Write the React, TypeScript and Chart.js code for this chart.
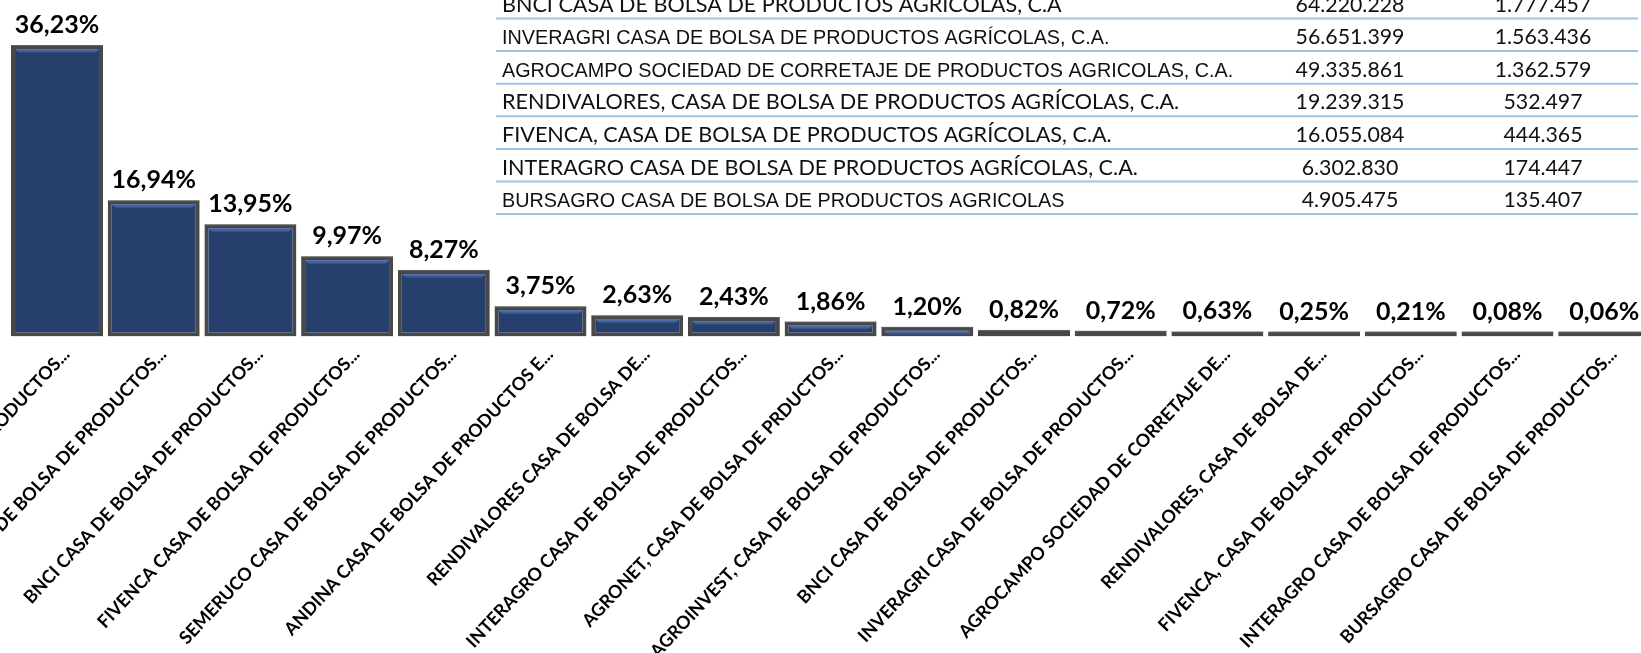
import React, { useEffect, useRef } from 'react';
import { Chart, registerables } from 'chart.js';

Chart.register(...registerables);

// ---------- DATA ----------
const categories: string[] = [
  'AGROPATRIA CASA DE BOLSA DE PRODUCTOS...',
  'UNIAGRO CASA DE BOLSA DE PRODUCTOS...',
  'BNCI CASA DE BOLSA DE PRODUCTOS...',
  'FIVENCA CASA DE BOLSA DE PRODUCTOS...',
  'SEMERUCO CASA DE BOLSA DE PRODUCTOS...',
  'ANDINA CASA DE BOLSA DE PRODUCTOS E...',
  'RENDIVALORES CASA DE BOLSA DE...',
  'INTERAGRO CASA DE BOLSA DE PRODUCTOS...',
  'AGRONET, CASA DE BOLSA DE PRDUCTOS...',
  'AGROINVEST, CASA DE BOLSA DE PRODUCTOS...',
  'BNCI CASA DE BOLSA DE PRODUCTOS...',
  'INVERAGRI CASA DE BOLSA DE PRODUCTOS...',
  'AGROCAMPO SOCIEDAD DE CORRETAJE DE...',
  'RENDIVALORES, CASA DE BOLSA DE...',
  'FIVENCA, CASA DE BOLSA DE PRODUCTOS...',
  'INTERAGRO CASA DE BOLSA DE PRODUCTOS...',
  'BURSAGRO CASA DE BOLSA DE PRODUCTOS...',
];

const shares: number[] = [
  36.23, 16.94, 13.95, 9.97, 8.27, 3.75, 2.63, 2.43, 1.86, 1.2, 0.82, 0.72, 0.63, 0.25, 0.21, 0.08, 0.06,
];

const tableNames: string[] = [
  'BNCI CASA DE BOLSA DE PRODUCTOS AGRICOLAS, C.A',
  'INVERAGRI CASA DE BOLSA DE PRODUCTOS AGRÍCOLAS, C.A.',
  'AGROCAMPO SOCIEDAD DE CORRETAJE DE PRODUCTOS AGRICOLAS, C.A.',
  'RENDIVALORES, CASA DE BOLSA DE PRODUCTOS AGRÍCOLAS, C.A.',
  'FIVENCA, CASA DE BOLSA DE PRODUCTOS AGRÍCOLAS, C.A.',
  'INTERAGRO CASA DE BOLSA DE PRODUCTOS AGRÍCOLAS, C.A.',
  'BURSAGRO CASA DE BOLSA DE PRODUCTOS AGRICOLAS',
];

const tableAmounts: number[] = [64220228, 56651399, 49335861, 19239315, 16055084, 6302830, 4905475];
const tableSecond: number[] = [1777457, 1563436, 1362579, 532497, 444365, 174447, 135407];

// ---------- LAYOUT ----------
const CANVAS_W = 1700;
const CANVAS_H = 653;
const CAT_W = 96.7;
const AREA_LEFT = 8.65;
const BASELINE = 336.5;
const Y_MAX = 40;
const PX_PER_UNIT = 8.046;
const AREA_TOP = BASELINE - Y_MAX * PX_PER_UNIT;
const AREA_RIGHT_PAD = CANVAS_W - (AREA_LEFT + categories.length * CAT_W);

const ARIAL_ROWS = new Set([1, 2, 6]);

const fmtPct = (v: number) => v.toFixed(2).replace('.', ',') + '%';
const fmtThousands = (n: number) => String(n).replace(/\B(?=(\d{3})+(?!\d))/g, '.');

const bevelPlugin = {
  id: 'bevel',
  afterDatasetsDraw(chart: any) {
    const ctx = chart.ctx as CanvasRenderingContext2D;
    const meta = chart.getDatasetMeta(0);
    ctx.save();
    meta.data.forEach((bar: any) => {
      const { x, y, base, width } = bar.getProps(['x', 'y', 'base', 'width'], true);
      const left = x - width / 2;
      const top = Math.min(y, base);
      const bottom = Math.max(y, base);
      const h = bottom - top;
      ctx.fillStyle = 'rgba(120,120,120,0.55)';
      ctx.fillRect(left, top, width, 1);
      if (h < 9) return;
      const g = ctx.createLinearGradient(0, top + 4, 0, top + 8);
      g.addColorStop(0, '#5678B2');
      g.addColorStop(1, '#2E4A7C');
      ctx.fillStyle = g;
      ctx.beginPath();
      ctx.moveTo(left + 4, top + 4);
      ctx.lineTo(left + width - 4, top + 4);
      ctx.lineTo(left + width - 8, top + 8);
      ctx.lineTo(left + 8, top + 8);
      ctx.closePath();
      ctx.fill();
    });
    ctx.restore();
  },
};

const valueLabelPlugin = {
  id: 'valueLabels',
  afterDatasetsDraw(chart: any) {
    const ctx = chart.ctx as CanvasRenderingContext2D;
    const meta = chart.getDatasetMeta(0);
    const data = chart.data.datasets[0].data as number[];
    ctx.save();
    ctx.font = 'bold 25px Lato';
    ctx.fillStyle = '#000';
    ctx.textAlign = 'center';
    ctx.textBaseline = 'alphabetic';
    meta.data.forEach((bar: any, i: number) => {
      ctx.fillText(fmtPct(data[i]), bar.x, bar.y - 12);
    });
    ctx.restore();
  },
};

const tablePlugin = {
  id: 'summaryTable',
  afterDraw(chart: any) {
    const ctx = chart.ctx as CanvasRenderingContext2D;
    const x0 = 496;
    const x1 = 1638;
    const firstLine = 18.5;
    const rowH = 32.6;
    ctx.save();
    tableNames.forEach((name, i) => {
      const lineY = firstLine + rowH * i;
      const baseY = lineY - 7;
      ctx.fillStyle = '#111';
      ctx.textBaseline = 'alphabetic';
      ctx.textAlign = 'left';
      ctx.font = ARIAL_ROWS.has(i) ? '19.8px "Liberation Sans"' : '21.6px Lato';
      ctx.fillText(name, 502, baseY);
      ctx.font = '21.3px Lato';
      ctx.textAlign = 'center';
      ctx.fillText(fmtThousands(tableAmounts[i]), 1350, baseY);
      ctx.fillText(fmtThousands(tableSecond[i]), 1543, baseY);
      ctx.strokeStyle = '#9DC3E6';
      ctx.lineWidth = 2;
      ctx.beginPath();
      ctx.moveTo(x0, lineY);
      ctx.lineTo(x1, lineY);
      ctx.stroke();
    });
    ctx.restore();
  },
};

export default function App() {
  const ref = useRef<HTMLCanvasElement>(null);

  useEffect(() => {
    if (!ref.current) return;
    const chart = new Chart(ref.current, {
      type: 'bar',
      data: {
        labels: categories,
        datasets: [
          {
            data: shares,
            backgroundColor: '#263F6D',
            borderColor: '#484848',
            borderWidth: 4,
            borderSkipped: false,
            barPercentage: 0.951,
            categoryPercentage: 1,
            minBarLength: 5,
          } as any,
        ],
      },
      options: {
        animation: false,
        responsive: false,
        devicePixelRatio: 1,
        layout: { padding: { left: AREA_LEFT, right: AREA_RIGHT_PAD, top: AREA_TOP, bottom: 0 } },
        plugins: {
          legend: { display: false },
          tooltip: { enabled: false },
          title: { display: false },
        },
        scales: {
          x: {
            display: true,
            grid: { display: false, drawTicks: false },
            border: { display: false },
            ticks: {
              autoSkip: false,
              minRotation: 47,
              maxRotation: 47,
              color: '#000',
              font: { family: 'Lato', weight: 'bold', size: 18 },
              padding: 7.5,
              labelOffset: 9.4,
            },
            afterFit: (s: any) => {
              s.height = CANVAS_H - BASELINE;
              s.paddingLeft = 0;
              s.paddingRight = 0;
            },
          },
          y: { display: false, min: 0, max: Y_MAX },
        },
      },
      plugins: [bevelPlugin, valueLabelPlugin, tablePlugin],
    });
    return () => chart.destroy();
  }, []);

  return (
    <div
      style={{
        position: 'fixed',
        left: 0,
        top: 0,
        width: 1641,
        height: 653,
        overflow: 'hidden',
        background: '#fff',
      }}
    >
      <canvas
        ref={ref}
        width={CANVAS_W}
        height={CANVAS_H}
        style={{ display: 'block', width: CANVAS_W, height: CANVAS_H }}
      />
    </div>
  );
}
